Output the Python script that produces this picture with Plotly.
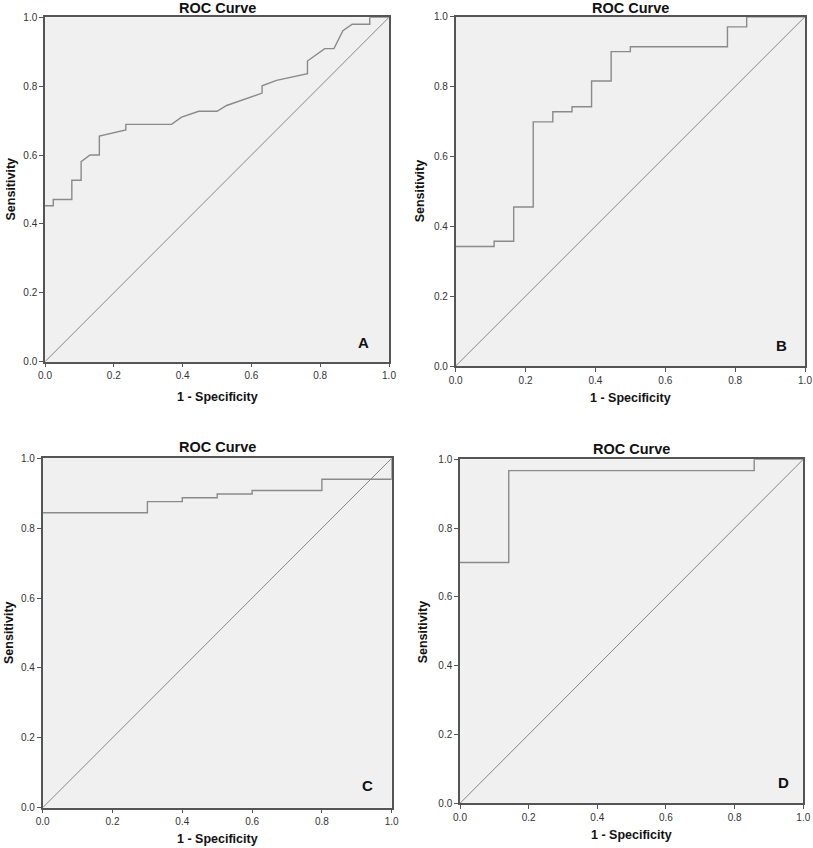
import plotly.graph_objects as go

# ---- data ----
a_fpr = [0.0, 0.024, 0.024, 0.078, 0.078, 0.105, 0.105, 0.131, 0.158, 0.158, 0.235, 0.235, 0.368, 0.397, 0.447, 0.500, 0.528, 0.631, 0.631, 0.673, 0.763, 0.763, 0.813, 0.840, 0.866, 0.893, 0.944, 0.944, 1.0]
a_tpr = [0.453, 0.453, 0.471, 0.471, 0.527, 0.527, 0.581, 0.600, 0.600, 0.655, 0.673, 0.689, 0.689, 0.710, 0.727, 0.727, 0.744, 0.780, 0.801, 0.817, 0.836, 0.873, 0.909, 0.909, 0.961, 0.980, 0.980, 1.0, 1.0]

b_fpr = [0.0, 0.110, 0.110, 0.166, 0.166, 0.222, 0.222, 0.278, 0.278, 0.333, 0.333, 0.389, 0.389, 0.445, 0.445, 0.500, 0.500, 0.778, 0.778, 0.833, 0.833, 1.0]
b_tpr = [0.342, 0.342, 0.357, 0.357, 0.455, 0.455, 0.699, 0.699, 0.728, 0.728, 0.742, 0.742, 0.816, 0.816, 0.900, 0.900, 0.914, 0.914, 0.971, 0.971, 1.0, 1.0]

c_fpr = [0.0, 0.3, 0.3, 0.4, 0.4, 0.5, 0.5, 0.6, 0.6, 0.8, 0.8, 1.0, 1.0]
c_tpr = [0.844, 0.844, 0.876, 0.876, 0.887, 0.887, 0.898, 0.898, 0.908, 0.908, 0.940, 0.940, 1.0]

d_fpr = [0.0, 0.142, 0.142, 0.857, 0.857, 1.0]
d_tpr = [0.700, 0.700, 0.967, 0.967, 1.0, 1.0]

panel_letters = ["A", "B", "C", "D"]
tick_vals = [0.0, 0.2, 0.4, 0.6, 0.8, 1.0]
tick_text = ["0.0", "0.2", "0.4", "0.6", "0.8", "1.0"]
chart_title = "ROC Curve"
x_title = "1 - Specificity"
y_title = "Sensitivity"

W, H = 813, 848
# panel pixel boxes: (left, right, top, bottom)
boxes = [
    (45.0, 389.0, 17.3, 361.7),
    (455.7, 805.0, 16.7, 366.0),
    (42.7, 391.7, 458.3, 807.7),
    (460.0, 803.3, 459.3, 803.3),
]
letter_pos = [(0.927, 0.057), (0.933, 0.06), (0.93, 0.063), (0.942, 0.06)]
title_y_px = [8, 8, 447, 449]
xtitle_y_px = [397, 398, 839, 835]
ytitle_x_px = [10, 420, 9, 423]

curves = [(a_fpr, a_tpr), (b_fpr, b_tpr), (c_fpr, c_tpr), (d_fpr, d_tpr)]

FONT = "Liberation Sans, Arial, sans-serif"
fig = go.Figure()
layout = dict(
    width=W, height=H, margin=dict(l=0, r=0, t=0, b=0, autoexpand=False),
    paper_bgcolor="white", showlegend=False,
    font=dict(family=FONT, color="#222"),
)
annotations = []

for i, ((fx, ty), (l, r, t, b)) in enumerate(zip(curves, boxes)):
    n = "" if i == 0 else str(i + 1)
    xa, ya = "x" + n, "y" + n
    fig.add_trace(go.Scatter(x=[0, 1], y=[0, 1], mode="lines", xaxis=xa, yaxis=ya,
                             line=dict(color="#7a7a7a", width=0.9), hoverinfo="skip"))
    fig.add_trace(go.Scatter(x=fx, y=ty, mode="lines", xaxis=xa, yaxis=ya,
                             line=dict(color="#8a8a8a", width=1.4), hoverinfo="skip"))
    xd = [l / W, r / W]
    yd = [1 - b / H, 1 - t / H]
    axis_common = dict(range=[0, 1], showgrid=False, zeroline=False, showline=True,
                       mirror=True, linecolor="#555", linewidth=1.5,
                       ticks="outside", ticklen=4, tickcolor="#555", tickwidth=1,
                       tickvals=tick_vals, ticktext=tick_text,
                       tickfont=dict(family=FONT, size=10, color="#333"),
                       fixedrange=True, automargin=False)
    layout["xaxis" + n] = dict(axis_common, domain=xd, anchor=ya)
    layout["yaxis" + n] = dict(axis_common, domain=yd, anchor=xa)
    cx = (l + r) / 2 / W
    annotations.append(dict(text="<b>" + chart_title + "</b>", xref="paper", yref="paper",
                            x=cx, y=1 - title_y_px[i] / H, showarrow=False,
                            font=dict(size=14.5, family=FONT, color="#111"),
                            xanchor="center", yanchor="middle"))
    annotations.append(dict(text="<b>" + x_title + "</b>", xref="paper", yref="paper",
                            x=cx, y=1 - xtitle_y_px[i] / H, showarrow=False,
                            font=dict(size=12.5, family=FONT, color="#111"),
                            xanchor="center", yanchor="middle"))
    annotations.append(dict(text="<b>" + y_title + "</b>", xref="paper", yref="paper",
                            x=ytitle_x_px[i] / W, y=1 - ((t + b) / 2) / H, showarrow=False,
                            textangle=-90,
                            font=dict(size=12.5, family=FONT, color="#111"),
                            xanchor="center", yanchor="middle"))
    lx, ly = letter_pos[i]
    annotations.append(dict(text="<b>" + panel_letters[i] + "</b>", xref=xa, yref=ya,
                            x=lx, y=ly, showarrow=False,
                            font=dict(size=15, family=FONT, color="#111"),
                            xanchor="center", yanchor="middle"))

layout["annotations"] = annotations
layout["plot_bgcolor"] = "#f0f0f0"
fig.update_layout(**layout)
fig.write_html("out.html", config={"displayModeBar": False},
               post_script="document.body.style.margin='0';document.body.style.padding='0';")
